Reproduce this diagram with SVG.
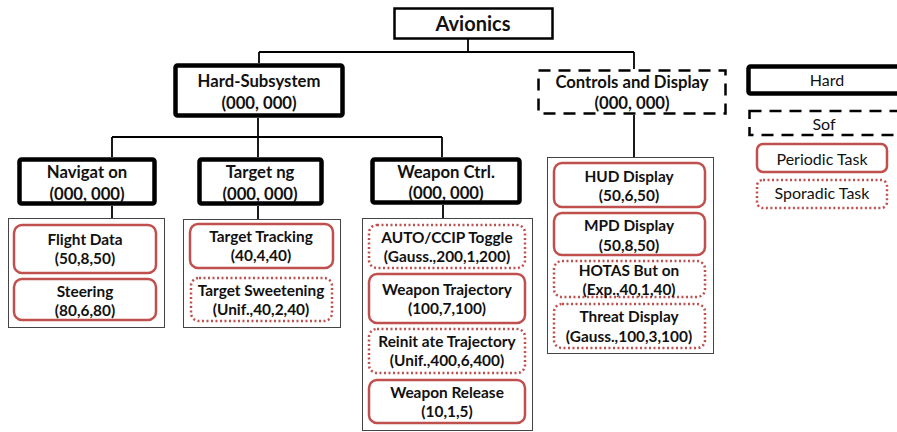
<svg xmlns="http://www.w3.org/2000/svg" width="897" height="432" viewBox="0 0 897 432">
<style>
text{font-family:Lato,"Liberation Sans",sans-serif;font-weight:bold;fill:#111;text-anchor:middle}
.big{font-size:20px}
.mid{font-size:16.7px}
.sm{font-size:15.4px}
.leg{font-size:16px;font-weight:normal}
.hard{fill:#fff;stroke:#000;stroke-width:4.5}
.soft{fill:#fff;stroke:#000;stroke-width:2.5;stroke-dasharray:12 8}
.top{fill:#fff;stroke:#000;stroke-width:2.5}
.cont{fill:#fff;stroke:#444;stroke-width:1}
.per{fill:#fff;stroke:#c0504d;stroke-width:2.5}
.spo{fill:#fff;stroke:#c0504d;stroke-width:2.5;stroke-dasharray:2 2.5}
.conn line{stroke:#000;stroke-width:1.8}
</style>
<g class="conn" id="connectors">
<line x1="468" y1="39" x2="468" y2="52"/>
<line x1="259" y1="52" x2="634" y2="52"/>
<line x1="259" y1="52" x2="259" y2="63"/>
<line x1="634" y1="52" x2="634" y2="69"/>
<line x1="258" y1="118" x2="258" y2="137"/>
<line x1="112" y1="137" x2="442" y2="137"/>
<line x1="112" y1="137" x2="112" y2="157"/>
<line x1="258" y1="137" x2="258" y2="157"/>
<line x1="442" y1="137" x2="442" y2="157"/>
<line x1="112" y1="206" x2="112" y2="218"/>
<line x1="258" y1="206" x2="258" y2="219"/>
<line x1="443" y1="205" x2="443" y2="218"/>
<line x1="634" y1="115" x2="634" y2="157"/>
</g>
<g id="avionics">
<rect class="top" x="394.5" y="8.5" width="158" height="30"/>
<text class="big" x="473" y="31">Avionics</text>
</g>
<g id="hard-subsystem">
<rect class="hard" x="175.5" y="65.5" width="167" height="50" rx="2"/>
<text class="mid" x="259" y="87">Hard-Subsystem</text>
<text class="mid" x="259" y="109">(000, 000)</text>
</g>
<g id="controls-display">
<rect class="soft" x="538.5" y="70.5" width="187" height="43"/>
<text class="mid" x="632" y="88">Controls and Display</text>
<text class="mid" x="632" y="109">(000, 000)</text>
</g>
<g id="legend-hard">
<rect class="hard" x="748.5" y="66.5" width="160" height="27" rx="2"/>
<text class="leg" x="827" y="86">Hard</text>
</g>
<g id="legend-soft">
<rect class="soft" x="749.5" y="111" width="160" height="24"/>
<text class="leg" x="824" y="130">Sof</text>
</g>
<g id="legend-periodic">
<rect class="per" x="757" y="144" width="130" height="28" rx="6"/>
<text class="leg" x="822" y="165">Periodic Task</text>
</g>
<g id="legend-sporadic">
<rect class="spo" x="757" y="180" width="130" height="28" rx="6"/>
<text class="leg" x="822" y="199">Sporadic Task</text>
</g>
<g id="navigation">
<rect class="hard" x="19.5" y="159.5" width="135" height="44" rx="2"/>
<text class="mid" x="87" y="178">Navigat on</text>
<text class="mid" x="87" y="200">(000, 000)</text>
</g>
<g id="targeting">
<rect class="hard" x="199.5" y="159.5" width="122" height="44" rx="2"/>
<text class="mid" x="260" y="178">Target ng</text>
<text class="mid" x="260" y="200">(000, 000)</text>
</g>
<g id="weapon-ctrl">
<rect class="hard" x="372.5" y="159.5" width="147" height="43" rx="2"/>
<text class="mid" x="446" y="177.5">Weapon Ctrl.</text>
<text class="mid" x="446" y="199">(000, 000)</text>
</g>
<g id="nav-tasks">
<rect class="cont" x="8.5" y="218.5" width="156" height="109"/>
<g id="flight-data">
<rect class="per" x="14" y="225" width="142" height="48" rx="8"/>
<text class="sm" x="85" y="245">Flight Data</text>
<text class="sm" x="85" y="264">(50,8,50)</text>
</g>
<g id="steering">
<rect class="per" x="14" y="279" width="142" height="41" rx="8"/>
<text class="sm" x="85" y="297">Steering</text>
<text class="sm" x="85" y="316">(80,6,80)</text>
</g>
</g>
<g id="target-tasks">
<rect class="cont" x="183.5" y="219.5" width="157" height="108"/>
<g id="target-tracking">
<rect class="per" x="190" y="224" width="143" height="44" rx="8"/>
<text class="sm" x="261" y="242">Target Tracking</text>
<text class="sm" x="261" y="261">(40,4,40)</text>
</g>
<g id="target-sweetening">
<rect class="spo" x="191" y="278" width="141" height="43" rx="8"/>
<text class="sm" x="261" y="296">Target Sweetening</text>
<text class="sm" x="261" y="315">(Unif.,40,2,40)</text>
</g>
</g>
<g id="weapon-tasks">
<rect class="cont" x="362.5" y="218.5" width="170" height="212"/>
<g id="auto-ccip">
<rect class="spo" x="369" y="225" width="156" height="43" rx="8"/>
<text class="sm" x="447" y="243">AUTO/CCIP Toggle</text>
<text class="sm" x="447" y="262">(Gauss.,200,1,200)</text>
</g>
<g id="weapon-trajectory">
<rect class="per" x="369" y="274" width="156" height="49" rx="8"/>
<text class="sm" x="447" y="295">Weapon Trajectory</text>
<text class="sm" x="447" y="314">(100,7,100)</text>
</g>
<g id="reinit-trajectory">
<rect class="spo" x="369" y="329" width="156" height="44" rx="8"/>
<text class="sm" x="447" y="347">Reinit ate Trajectory</text>
<text class="sm" x="447" y="366">(Unif.,400,6,400)</text>
</g>
<g id="weapon-release">
<rect class="per" x="369" y="380" width="156" height="43" rx="8"/>
<text class="sm" x="447" y="398">Weapon Release</text>
<text class="sm" x="447" y="417">(10,1,5)</text>
</g>
</g>
<g id="controls-tasks">
<rect class="cont" x="547.5" y="157.5" width="166" height="196"/>
<g id="hud-display">
<rect class="per" x="554" y="163" width="151" height="44" rx="8"/>
<text class="sm" x="629" y="182">HUD Display</text>
<text class="sm" x="629" y="201">(50,6,50)</text>
</g>
<g id="mpd-display">
<rect class="per" x="554" y="213" width="151" height="42" rx="8"/>
<text class="sm" x="629" y="231">MPD Display</text>
<text class="sm" x="629" y="251">(50,8,50)</text>
</g>
<g id="hotas-button">
<rect class="spo" x="554" y="261" width="151" height="36" rx="8"/>
<text class="sm" x="629" y="276">HOTAS But on</text>
<text class="sm" x="629" y="295">(Exp.,40,1,40)</text>
</g>
<g id="threat-display">
<rect class="spo" x="554" y="304" width="151" height="44" rx="8"/>
<text class="sm" x="629" y="322">Threat Display</text>
<text class="sm" x="629" y="342">(Gauss.,100,3,100)</text>
</g>
</g>
</svg>
